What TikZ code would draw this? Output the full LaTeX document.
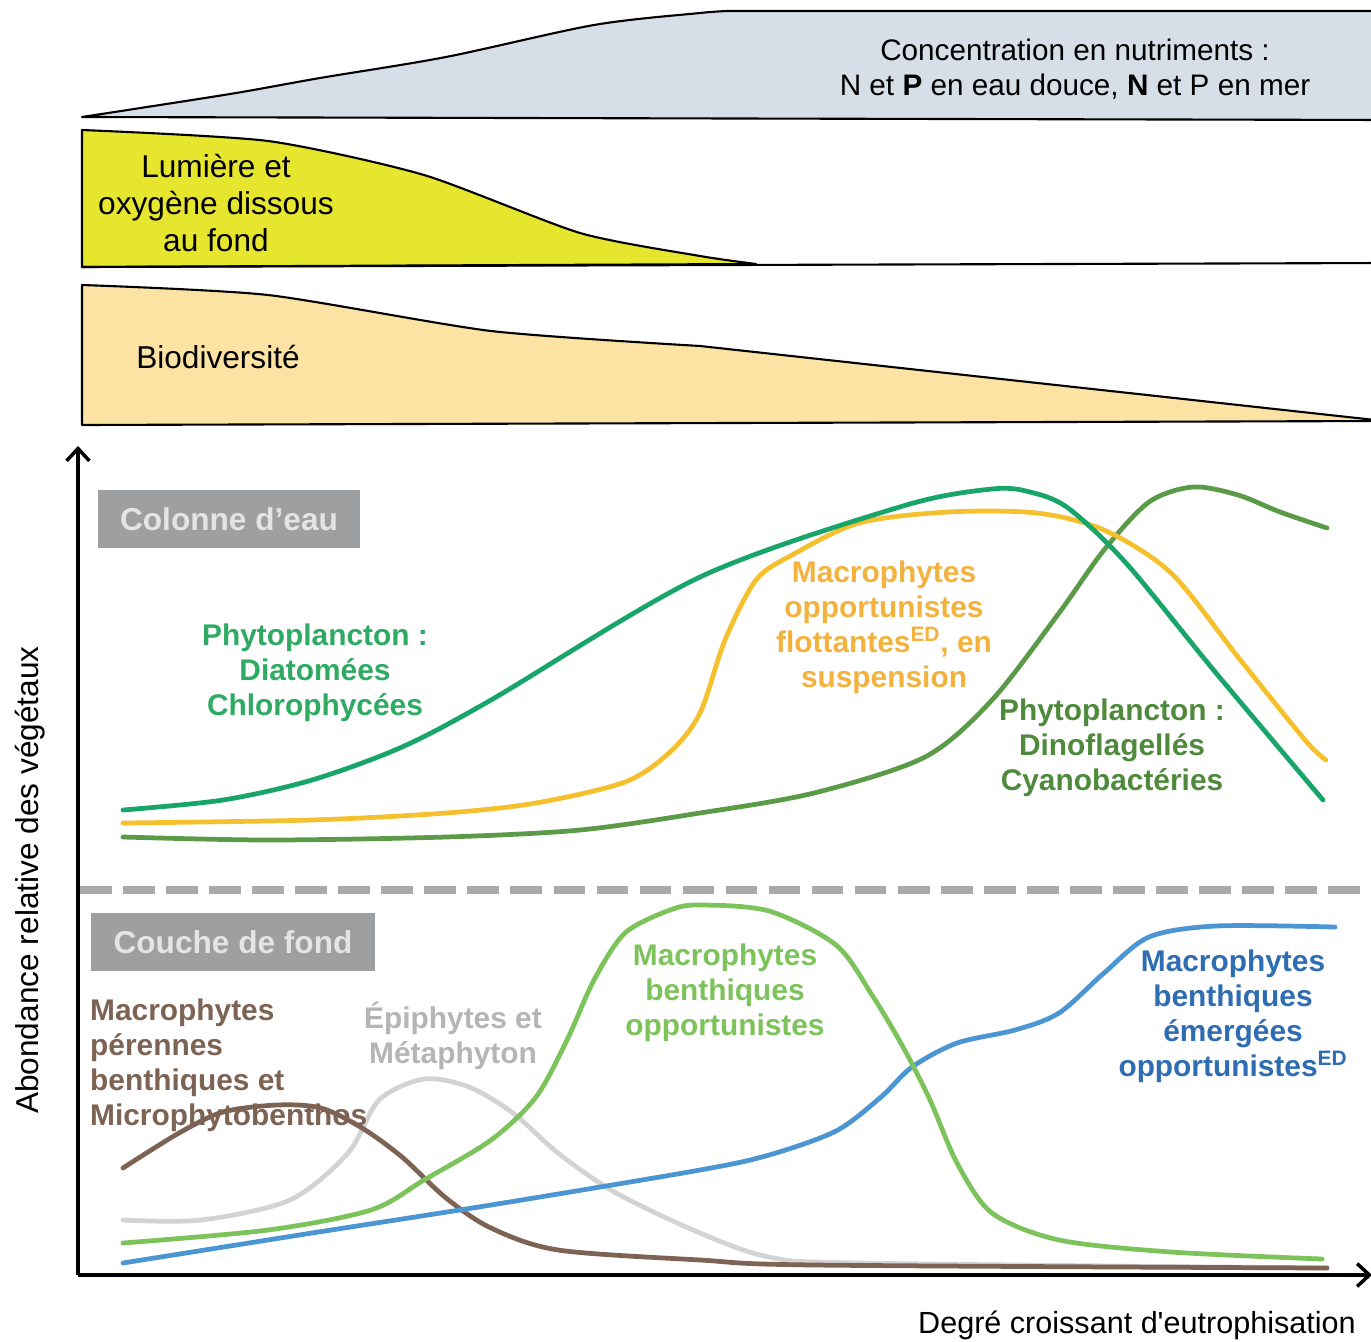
\documentclass[tikz,border=0pt]{standalone}
\usepackage{fontspec}
\setmainfont{Liberation Sans}
\usepackage{tikz}
\usetikzlibrary{positioning, arrows.meta}

\definecolor{nutri}{HTML}{D6DEE8}
\definecolor{lumiere}{HTML}{E6E62E}
\definecolor{biodiv}{HTML}{FCE3A3}
\definecolor{boxgris}{HTML}{9E9FA1}
\definecolor{boxtexte}{HTML}{E4E4E4}
\definecolor{tirets}{HTML}{AAAAAA}
\definecolor{diatom}{HTML}{17A56A}
\definecolor{diatomtxt}{HTML}{2EAA62}
\definecolor{flott}{HTML}{F5C02E}
\definecolor{flotttxt}{HTML}{F3B23E}
\definecolor{dino}{HTML}{5B9A47}
\definecolor{dinotxt}{HTML}{4F8A3C}
\definecolor{brun}{HTML}{7D6354}
\definecolor{epi}{HTML}{D3D3D3}
\definecolor{epitxt}{HTML}{B5B5B5}
\definecolor{benth}{HTML}{7DC35B}
\definecolor{emerg}{HTML}{4B95D3}
\definecolor{emergtxt}{HTML}{2F6DB2}

\begin{document}
\begin{tikzpicture}[x=0.02cm, y=-0.02cm,
    zone/.style={draw=black, line width=1.2pt, line join=round},
    courbe/.style={line width=2.7pt, line cap=round},
    axe/.style={line width=2pt, -{Straight Barb[length=7pt, width=13pt, line width=2pt]}},
    etiq/.style={font=\fontsize{17}{20}\selectfont\bfseries, align=center},
    titre/.style={font=\fontsize{18}{20.8}\selectfont, align=center},
    boite/.style={fill=boxgris, text=boxtexte, font=\fontsize{18}{20}\selectfont\bfseries, minimum height=1.17cm, inner sep=0pt}]
    \useasboundingbox[fill=white] (0,0) rectangle (1371,1341);

    \filldraw[zone, fill=nutri] plot[smooth, tension=0.5] coordinates {(82,117) (230,94) (320,78) (446,57) (594,25) (700,13) (729,11)} -- (1385,11) -- (1385,120) -- cycle;
    \filldraw[zone, fill=lumiere] (82,267) -- plot[smooth, tension=0.4] coordinates {(82,130) (268,141) (424,175) (580,233) (700,256) (756,264)} -- cycle;
    \draw[zone] (82,267) -- (1385,263);
    \filldraw[zone, fill=biodiv] (82,425) -- plot[smooth, tension=0.4] coordinates {(82,285) (268,295) (491,331) (700,346)} -- (1375,420) -- (1385,421) -- cycle;

    \node[titre, font=\fontsize{16.9}{20}\selectfont] (nutriments) at (1075,69) {Concentration en nutriments :\\N et \textbf{P} en eau douce, \textbf{N} et P en mer};
    \node[titre] (oxygene) at (216,203) {Lumière et\\oxygène dissous\\au fond};
    \node[titre] (biodiversite) at (218,357) {Biodiversité};

    \coordinate (o) at (78,1275);
    \coordinate (yhaut) at (78,446);
    \coordinate (xfin) at (1372,1275);
    \coordinate (tg) at (80,890);
    \coordinate (td) at (1375,890);
    \draw[tirets, line width=4.5pt, dash pattern=on 18pt off 6.5pt] (tg) -- (td);
    \draw[axe] (o) -- (yhaut);
    \draw[axe] (o) -- (xfin);

    \node[titre, rotate=90] (ordonnee) at (30,880) {Abondance relative des végétaux};
    \node[titre, font=\fontsize{17.4}{20}\selectfont, anchor=west] (abscisse) at (912,1325) {Degré croissant d\textquotesingle eutrophisation};

    \node[boite, minimum width=5.26cm] (colonne) at (229,519) {Colonne d’eau};
    \node[boite, minimum width=5.7cm] (couche) at (233,942) {Couche de fond};

    \draw[courbe, dino] plot[smooth] coordinates {(123,837) (268,840) (446,837) (580,830) (700,813) (814,793) (925,757) (992,700) (1059,613) (1104,550) (1149,502) (1193,487) (1238,495) (1280,512) (1327,528)};
    \draw[courbe, flott] plot[smooth] coordinates {(123,823) (312,820) (446,813) (536,803) (625,782) (670,752) (700,713) (725,640) (756,580) (792,555) (859,523) (948,512) (1037,513) (1104,530) (1171,573) (1238,657) (1305,740) (1326,760)};
    \draw[courbe, diatom] plot[smooth] coordinates {(123,810) (223,800) (312,780) (402,747) (491,700) (700,577) (903,506) (992,489) (1030,492) (1068,508) (1126,563) (1216,673) (1323,800)};

    \draw[courbe, epi] plot[smooth] coordinates {(123,1220) (201,1220) (290,1200) (348,1153) (379,1100) (424,1079) (469,1087) (513,1113) (558,1153) (616,1193) (700,1233) (769,1257) (859,1263) (1327,1268)};
    \draw[courbe, brun] plot[smooth] coordinates {(123,1168) (179,1133) (223,1112) (277,1105) (321,1108) (362,1128) (402,1157) (446,1198) (491,1228) (558,1250) (700,1260) (814,1265) (1327,1268)};
    \draw[courbe, emerg] plot[smooth] coordinates {(123,1263) (312,1233) (491,1205) (700,1170) (769,1155) (836,1131) (881,1097) (912,1067) (957,1043) (1015,1030) (1059,1013) (1104,973) (1149,937) (1216,926) (1335,927)};
    \draw[courbe, benth] plot[smooth] coordinates {(123,1243) (268,1230) (371,1210) (424,1180) (491,1140) (536,1097) (567,1040) (594,980) (625,933) (670,910) (700,905) (769,911) (836,945) (872,995) (903,1047) (930,1100) (957,1163) (992,1213) (1059,1240) (1171,1252) (1322,1259)};

    \node[etiq, diatomtxt] (diatomees) at (315,673) {Phytoplancton :\\Diatomées\\Chlorophycées};
    \node[etiq, flotttxt] (flottantes) at (884,627) {Macrophytes\\opportunistes\\flottantes\textsuperscript{ED}, en\\suspension};
    \node[etiq, dinotxt] (dinoflag) at (1112,748) {Phytoplancton :\\Dinoflagellés\\Cyanobactéries};
    \node[etiq, brun, align=left, anchor=west] (perennes) at (84,1065) {Macrophytes\\pérennes\\benthiques et\\Microphytobenthos};
    \node[etiq, epitxt] (epiphytes) at (453,1036) {Épiphytes et\\Métaphyton};
    \node[etiq, benth] (opportun) at (725,993) {Macrophytes\\benthiques\\opportunistes};
    \node[etiq, emergtxt] (emergees) at (1233,1016) {Macrophytes\\benthiques\\émergées\\opportunistes\textsuperscript{ED}};
\end{tikzpicture}
\end{document}
